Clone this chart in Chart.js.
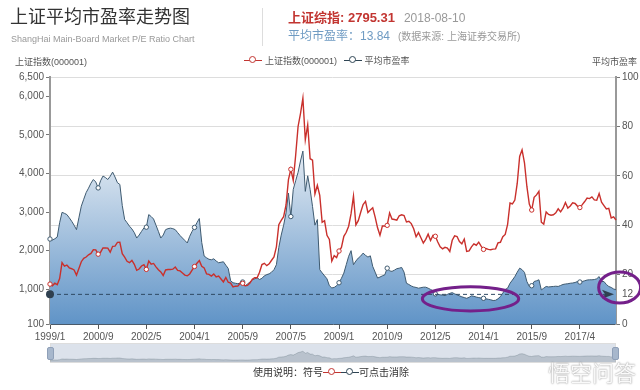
<!DOCTYPE html>
<html lang="zh">
<head>
    <meta charset="UTF-8">
    <title>上证平均市盈率走势图</title>
    <script src="https://cdn.jsdelivr.net/npm/chart.js"></script>
    <style>
        body {
            margin: 0;
            background: #ffffff;
            font-family: "Liberation Sans", Arial, "Noto Sans CJK SC", sans-serif;
            color: #333;
        }
        .wrap {
            position: relative;
            width: 640px;
            height: 390px;
            overflow: hidden;
        }
        .abs { position: absolute; white-space: nowrap; line-height: 1; }
        .title { left: 10px; top: 8px; font-size: 18px; color: #333; }
        .subtitle { left: 11px; top: 35px; font-size: 9px; color: #999; }
        .sep { left: 262px; top: 8px; width: 1px; height: 38px; background: #ddd; }
        .line1 { left: 288px; top: 9px; }
        .line2 { left: 288px; top: 27px; }
        .red { color: #c23531; font-weight: bold; font-size: 13px; }
        .gray { color: #999; font-size: 12px; margin-left: 9px; }
        .pe { color: #6f9bc3; font-size: 12px; }
        .src { color: #999; font-size: 10px; margin-left: 8px; }
        .legend { left: 244px; top: 56px; font-size: 9px; color: #555; }
        .axisname { top: 58px; font-size: 9px; color: #555; }
        .icon {
            display: inline-block; position: relative;
            width: 18px; height: 9px; vertical-align: -1px; margin-right: 3px;
        }
        .icon::before {
            content: ''; position: absolute; left: 0; right: 0; top: 4px;
            border-top: 1.5px solid currentColor;
        }
        .icon::after {
            content: ''; position: absolute; left: 5px; top: 0;
            width: 5px; height: 5px; border: 1.5px solid currentColor;
            border-radius: 50%; background: #fff;
        }
        .slider {
            left: 50px; top: 343px; width: 566px; height: 20px;
            background: rgba(167, 183, 204, 0.4); border: 1px solid #ddd; box-sizing: border-box;
        }
        .handle {
            top: 347px; width: 5px; height: 11px; background: #a7b7cc;
            border: 1px solid #8fa0b8; border-radius: 2px;
        }
        .note { left: 253px; top: 368px; font-size: 10px; color: #333; }
        .mark { color: #c23531; }
        .mark2 { color: #2f4554; }
        .water {
            right: 4px; top: 360px; font-size: 22px; color: rgba(255,255,255,0.95);
            text-shadow: 0 0 2px rgba(0,0,0,0.35), 0 0 1px rgba(0,0,0,0.3);
            font-family: "Noto Sans CJK SC", sans-serif;
        }
    </style>
</head>
<body>
<div class="wrap">
    <canvas id="peChart" width="640" height="390" class="abs" style="left:0;top:0"></canvas>

    <div class="abs title">上证平均市盈率走势图</div>
    <div class="abs subtitle">ShangHai Main-Board Market P/E Ratio Chart</div>
    <div class="abs sep"></div>
    <div class="abs line1"><span class="red">上证综指: 2795.31</span><span class="gray">2018-08-10</span></div>
    <div class="abs line2"><span class="pe">平均市盈率：13.84</span><span class="src">(数据来源: 上海证券交易所)</span></div>

    <div class="abs legend">
        <span class="icon mark"></span>上证指数(000001)
        <span class="icon mark2" style="margin-left:4px"></span>平均市盈率
    </div>
    <div class="abs axisname" style="left:15px">上证指数(000001)</div>
    <div class="abs axisname" style="right:3px">平均市盈率</div>

    <!-- data zoom strip -->
    <div class="abs slider"></div>
    <canvas id="miniChart" width="566" height="18" class="abs" style="left:50px;top:344px"></canvas>
    <div class="abs handle" style="left:47px"></div>
    <div class="abs handle" style="left:612px"></div>

    <div class="abs note">使用说明：符号<span class="icon mark" style="margin:0"></span><span class="icon mark2" style="margin:0"></span>可点击消除</div>
    <div class="abs water">悟空问答</div>
</div>

<script>
    // monthly closes of 上证指数, 1999/1 - 2018/8
    const indexClose = [
        1134, 1090, 1158, 1120, 1279, 1689, 1601, 1627, 1556, 1532, 1500, 1367,
        1535, 1714, 1800, 1836, 1894, 1928, 2023, 2021, 1910, 1961, 2070, 2073,
        2065, 1960, 2113, 2119, 2214, 2218, 1920, 1834, 1724, 1689, 1747, 1646,
        1491, 1524, 1604, 1634, 1515, 1732, 1651, 1669, 1581, 1507, 1448, 1357,
        1500, 1511, 1511, 1521, 1577, 1487, 1476, 1421, 1367, 1348, 1397, 1497,
        1590, 1675, 1742, 1595, 1555, 1399, 1387, 1342, 1396, 1320, 1340, 1266,
        1191, 1306, 1181, 1159, 1060, 1080, 1083, 1162, 1155, 1092, 1099, 1161,
        1258, 1299, 1298, 1440, 1641, 1672, 1612, 1658, 1752, 1837, 2099, 2675,
        2786, 2881, 3183, 3841, 4109, 3820, 4471, 5218, 5552, 5954, 4871, 5262,
        4383, 4348, 3472, 3693, 3433, 2736, 2775, 2397, 2293, 1729, 1871, 1821,
        1991, 2082, 2373, 2477, 2633, 2959, 3412, 2667, 2779, 2996, 3195, 3277,
        2989, 3051, 3110, 2870, 2592, 2398, 2638, 2639, 2656, 2979, 2820, 2808,
        2790, 2905, 2928, 2911, 2743, 2762, 2701, 2568, 2359, 2468, 2333, 2199,
        2292, 2428, 2262, 2397, 2373, 2225, 2103, 2047, 2086, 2069, 1980, 2269,
        2385, 2366, 2237, 2178, 2301, 1979, 1994, 2098, 2175, 2141, 2220, 2116,
        2033, 2056, 2033, 2026, 2039, 2048, 2202, 2217, 2364, 2420, 2683, 3235,
        3210, 3310, 3748, 4441, 4612, 4277, 3664, 3206, 3053, 3383, 3445, 3539,
        2738, 2688, 3004, 2938, 2917, 2930, 2979, 3085, 3005, 3100, 3250, 3104,
        3159, 3242, 3223, 3155, 3117, 3192, 3273, 3361, 3349, 3393, 3317, 3307,
        3481, 3259, 3169, 3082, 3095, 2847, 2876, 2795
    ];

    // average P/E, same months
    const peRatio = [
        34.4, 34.0, 34.5, 35.2, 41.0, 45.2, 44.8, 44.3, 43.0, 41.6, 40.0, 38.2,
        43.0, 47.7, 50.5, 53.2, 55.0, 57.0, 58.5, 57.5, 55.1, 58.0, 59.9, 59.3,
        58.5, 59.8, 61.5, 59.5, 57.2, 56.5, 48.0, 42.3, 41.0, 39.6, 38.5, 37.0,
        34.8, 36.0, 37.5, 38.9, 39.2, 44.3, 43.5, 42.5, 40.0, 37.5, 34.8, 36.0,
        38.2, 38.6, 38.8, 38.6, 38.2, 37.0, 35.8, 34.8, 33.8, 32.8, 35.5, 37.5,
        39.1, 41.0, 42.7, 33.0, 27.5, 26.8, 26.2, 26.0, 26.4, 25.5, 24.8, 25.0,
        25.2, 23.8, 22.5, 17.5, 16.7, 16.5, 16.3, 16.6, 17.0, 15.4, 16.2, 17.0,
        17.9, 18.3, 18.7, 18.0, 18.5, 19.5, 20.0, 20.3, 21.0, 22.0, 24.0, 31.0,
        36.0, 40.0, 45.0, 53.0, 43.5, 54.5, 58.0, 61.4, 66.0, 70.0, 53.7, 60.0,
        54.5, 47.6, 40.0, 42.3, 22.0, 20.7, 19.5, 18.3, 15.5, 14.6, 14.8, 15.5,
        16.7, 18.5, 20.6, 24.0, 27.4, 29.7, 24.0, 25.5, 26.7, 27.5, 28.7, 27.8,
        27.1, 27.6, 23.3, 21.0, 18.6, 19.0, 19.5, 19.9, 22.6, 21.5, 21.3, 21.8,
        22.4, 22.6, 22.9, 21.0, 16.5, 16.0, 15.4, 15.0, 14.8, 14.5, 14.7, 14.9,
        14.9, 14.5, 14.0, 13.5, 12.2, 12.0, 11.8, 11.7, 11.5, 12.0, 12.4, 12.7,
        12.2, 11.8, 11.4, 11.0, 10.7, 10.4, 10.8, 11.4, 11.2, 10.9, 10.7, 10.5,
        10.4, 10.2, 10.0, 9.8, 9.5, 9.6, 10.2, 11.1, 12.5, 14.0, 14.5, 16.5,
        17.8, 19.2, 21.0, 22.6, 22.0, 20.9, 17.2, 15.2, 15.5, 17.2, 17.5, 17.9,
        13.8, 14.5, 15.2, 15.0, 15.1, 15.2, 15.3, 15.2, 15.6, 16.0, 16.2, 16.3,
        16.5, 16.6, 16.8, 17.2, 17.0, 17.2, 17.5, 17.8, 17.9, 17.9, 18.0, 18.3,
        19.2, 17.2, 17.2, 16.0, 15.2, 14.8, 14.2, 13.84
    ];

    const xTickLabels = ['1999/1', '2000/9', '2002/5', '2004/1', '2005/9', '2007/5',
                         '2009/1', '2010/9', '2012/5', '2014/1', '2015/9', '2017/4'];
    const leftTicks = [100, 1000, 2000, 3000, 4000, 5000, 6000, 6500];
    const peMark = 12;

    // hand-drawn highlight rings (data coords: month index, P/E)
    const rings = [
        { i: 174.6, pe: 10.2, di: 20, dpe: 4.9 },
        { i: 236.5, pe: 14.8, di: 8.7, dpe: 6.3 }
    ];

    // month labels 1999/1 .. 2018/8
    const months = [];
    for (let y = 1999; months.length < indexClose.length; y++) {
        for (let m = 1; m <= 12 && months.length < indexClose.length; m++) months.push(y + '/' + m);
    }

    Chart.defaults.font.family = '"Liberation Sans", Arial, "Noto Sans CJK SC", sans-serif';
    Chart.defaults.font.size = 10;
    Chart.defaults.color = '#555';

    const markerEvery = 20;
    const pointSize = ctx => (ctx.dataIndex % markerEvery === 0 ? 2.2 : 0);

    const overlay = {
        id: 'overlay',
        afterDatasetsDraw(chart) {
            const ctx = chart.ctx;
            const area = chart.chartArea;
            const y = chart.scales.pe.getPixelForValue(peMark);
            ctx.save();
            ctx.strokeStyle = '#2f4a63';
            ctx.lineWidth = 1;
            ctx.setLineDash([4, 3]);
            ctx.beginPath();
            ctx.moveTo(area.left, y);
            ctx.lineTo(area.right - 8, y);
            ctx.stroke();
            ctx.setLineDash([]);
            ctx.fillStyle = '#2f4050';
            ctx.beginPath();
            ctx.arc(area.left, y, 4, 0, Math.PI * 2);
            ctx.fill();
            // arrow head
            ctx.beginPath();
            ctx.moveTo(area.right - 2, y);
            ctx.lineTo(area.right - 14, y - 4.5);
            ctx.lineTo(area.right - 11, y);
            ctx.lineTo(area.right - 14, y + 4.5);
            ctx.closePath();
            ctx.fill();
            ctx.fillStyle = '#555';
            ctx.font = '10px "Liberation Sans", Arial, sans-serif';
            ctx.textBaseline = 'middle';
            ctx.fillText(String(peMark), area.right + 6, y);
            ctx.restore();
        },
        afterDraw(chart) {
            const ctx = chart.ctx;
            const xs = chart.scales.x, ys = chart.scales.pe;
            ctx.save();
            ctx.strokeStyle = '#74208a';
            ctx.lineWidth = 3;
            rings.forEach(r => {
                const cx = xs.getPixelForValue(r.i);
                const cy = ys.getPixelForValue(r.pe);
                const rx = xs.getPixelForValue(r.i + r.di) - cx;
                const ry = cy - ys.getPixelForValue(r.pe + r.dpe);
                ctx.beginPath();
                ctx.ellipse(cx, cy, rx, ry, 0, 0, Math.PI * 2);
                ctx.stroke();
            });
            ctx.restore();
        }
    };

    const peFill = ctx => {
        const chart = ctx.chart;
        const area = chart.chartArea;
        if (!area) return 'rgba(100,150,200,0.8)';
        const top = chart.scales.pe.getPixelForValue(Math.max(...peRatio));
        const g = chart.ctx.createLinearGradient(0, top, 0, area.bottom);
        g.addColorStop(0, 'rgb(228,235,243)');
        g.addColorStop(1, 'rgb(96,148,199)');
        return g;
    };

    new Chart(document.getElementById('peChart'), {
        type: 'line',
        data: {
            labels: months,
            datasets: [{
                label: '上证指数(000001)',
                data: indexClose,
                yAxisID: 'idx',
                borderColor: '#c9302c',
                borderWidth: 1.4,
                pointRadius: pointSize,
                pointBackgroundColor: '#fff',
                pointBorderColor: '#c9302c',
                pointBorderWidth: 1,
                fill: false,
                tension: 0,
                order: 0
            }, {
                label: '平均市盈率',
                data: peRatio,
                yAxisID: 'pe',
                borderColor: '#3e5a70',
                borderWidth: 1,
                pointRadius: pointSize,
                pointBackgroundColor: '#fff',
                pointBorderColor: '#3e5a70',
                pointBorderWidth: 1,
                backgroundColor: peFill,
                fill: 'origin',
                tension: 0,
                order: 1
            }]
        },
        options: {
            responsive: false,
            animation: false,
            devicePixelRatio: 1,
            layout: { padding: { top: 77, left: 0, right: 0, bottom: 0 } },
            plugins: { legend: { display: false }, tooltip: { enabled: false } },
            scales: {
                x: {
                    offset: false,
                    grid: { drawOnChartArea: false, drawTicks: true, tickLength: 5, tickColor: '#555' },
                    border: { color: '#4a5a6a', width: 1 },
                    ticks: {
                        autoSkip: false, maxRotation: 0, padding: 2, color: '#555',
                        callback: v => xTickLabels[v / markerEvery]
                    },
                    afterBuildTicks: s => { s.ticks = s.ticks.filter(t => t.value % markerEvery === 0); },
                    afterFit: s => { s.height = 66; }
                },
                idx: {
                    position: 'left',
                    min: 100, max: 6500,
                    grid: { drawOnChartArea: false, drawTicks: true, tickLength: 4, tickColor: '#777' },
                    border: { color: '#999', width: 2 },
                    ticks: { padding: 2, color: '#555', callback: v => v.toLocaleString('en-US') },
                    afterBuildTicks: s => { s.ticks = leftTicks.map(v => ({ value: v })); },
                    afterFit: s => { s.width = 50; }
                },
                pe: {
                    position: 'right',
                    min: 0, max: 100,
                    grid: { color: '#ddd', drawTicks: true, tickLength: 4, tickColor: '#777' },
                    border: { color: '#999', width: 2 },
                    ticks: { stepSize: 20, padding: 2, color: '#555' },
                    afterFit: s => { s.width = 24; }
                }
            }
        },
        plugins: [overlay]
    });

    // data zoom strip shadow (first series)
    new Chart(document.getElementById('miniChart'), {
        type: 'line',
        data: {
            labels: months,
            datasets: [{
                data: indexClose,
                borderColor: 'rgba(47,69,84,0.35)',
                borderWidth: 0.6,
                backgroundColor: 'rgba(47,69,84,0.2)',
                pointRadius: 0,
                fill: 'start',
                tension: 0
            }]
        },
        options: {
            responsive: false,
            animation: false,
            devicePixelRatio: 1,
            plugins: { legend: { display: false }, tooltip: { enabled: false } },
            scales: {
                x: { display: false, offset: false },
                y: { display: false, grace: 0 }
            }
        }
    });
</script>
</body>
</html>
